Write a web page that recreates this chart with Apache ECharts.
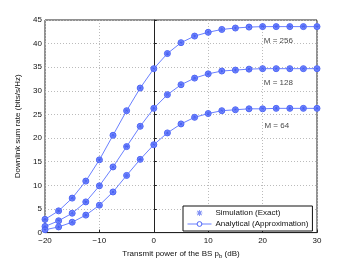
<!DOCTYPE html>
<html><head><meta charset="utf-8">
<script src="https://cdn.jsdelivr.net/npm/echarts@6/dist/echarts.min.js"></script>
<style>html,body{margin:0;padding:0;background:#fff}#c{width:350px;height:264px}</style>
</head><body><div id="c"></div>
<script>
var powerDb = [-20,-17.5,-15,-12.5,-10,-7.5,-5,-2.5,0,2.5,5,7.5,10,12.5,15,17.5,20,22.5,25,27.5,30];
var rateM256 = [2.8,4.6,7.3,10.9,15.4,20.6,25.8,30.6,34.7,37.9,40.2,41.6,42.4,43.0,43.3,43.5,43.6,43.6,43.6,43.6,43.6];
var rateM128 = [1.3,2.5,4.1,6.5,9.9,13.9,18.2,22.5,26.3,29.2,31.3,32.7,33.6,34.2,34.4,34.6,34.7,34.7,34.7,34.7,34.7];
var rateM64 = [0.6,1.2,2.2,3.7,5.8,8.6,12.1,15.5,18.6,21.1,23.0,24.4,25.2,25.8,26.0,26.2,26.2,26.3,26.3,26.3,26.3];
var curveLabels = ['M = 256','M = 128','M = 64'];
var labelX = [22.9,22.9,22.6];
var labelY = [40.5,31.7,22.6];

var blue = '#5068f8';
var ast = 'path://M-0.12,-1L0.12,-1L0.12,1L-0.12,1Z M-1,-0.12L1,-0.12L1,0.12L-1,0.12Z M0.622,0.792L0.792,0.622L-0.622,-0.792L-0.792,-0.622Z M-0.622,0.792L-0.792,0.622L0.622,-0.792L0.792,-0.622Z';
function pairs(v){return powerDb.map(function(x,i){return [x,v[i]];});}
var curves = [rateM256, rateM128, rateM64];
var series = [];
curves.forEach(function(c){
  series.push({name:'Analytical (Approximation)',type:'line',data:pairs(c),symbol:'circle',symbolSize:6,
    lineStyle:{color:'#6a80ff',width:1},itemStyle:{color:'#7a8fff',borderColor:'#4f66f6',borderWidth:1},z:2});
  series.push({name:'Simulation (Exact)',type:'scatter',data:pairs(c),symbol:ast,symbolSize:4.5,
    itemStyle:{color:'#3a52ee'},z:3});
});
series.push({name:'labels',type:'scatter',symbolSize:0,silent:true,
  data:curveLabels.map(function(t,i){return {value:[labelX[i],labelY[i]],name:t};}),
  label:{show:true,position:'inside',formatter:'{b}',color:'#111',fontSize:8,fontFamily:'Liberation Sans'}});

var chart = echarts.init(document.getElementById('c'));
chart.setOption({
  animation:false,
  backgroundColor:'#fff',
  textStyle:{fontFamily:'Liberation Sans'},
  grid:{left:45,right:33,top:20,bottom:30,show:true,borderColor:'#222',borderWidth:1,backgroundColor:'transparent'},
  xAxis:{type:'value',min:-20,max:30,interval:10,
    name:'Transmit power of the BS {s|p}{sub|b} (dB)',nameLocation:'middle',nameGap:15,
    nameTextStyle:{color:'#111',fontSize:8,rich:{s:{fontSize:8,color:'#111'},sub:{fontSize:6,color:'#111',padding:[5,0,0,0]}}},
    axisLine:{lineStyle:{color:'#222'}},axisTick:{inside:true,length:3,lineStyle:{color:'#222'}},
    axisLabel:{color:'#111',fontSize:8,margin:4,formatter:function(v){return v<0?'\u2212'+(-v):String(v);}},
    splitLine:{show:true,lineStyle:{color:'#bbb',type:[1,2],width:1}}},
  yAxis:{type:'value',min:0,max:45,interval:5,
    name:'Downlink sum rate (bits/s/Hz)',nameLocation:'middle',nameGap:17,
    nameTextStyle:{color:'#111',fontSize:8},
    axisLine:{lineStyle:{color:'#222'}},axisTick:{inside:true,length:3,lineStyle:{color:'#222'}},
    axisLabel:{color:'#111',fontSize:8,margin:3},
    splitLine:{show:true,lineStyle:{color:'#bbb',type:[1,2],width:1}}},
  legend:{data:[{name:'Simulation (Exact)',icon:ast,itemStyle:{color:'#3a52ee'}},
      {name:'Analytical (Approximation)',itemStyle:{color:'#fff',borderColor:'#4f66f6',borderWidth:1},lineStyle:{width:1,color:'#6a80ff'}}],
    orient:'vertical',left:183,top:206,padding:[3,4,3,4],itemGap:3,itemWidth:24,itemHeight:6,
    borderColor:'#111',borderWidth:1,backgroundColor:'#fff',
    textStyle:{fontSize:8,color:'#111',padding:[0,0,0,-1]}},
  series:series
});
</script></body></html>
